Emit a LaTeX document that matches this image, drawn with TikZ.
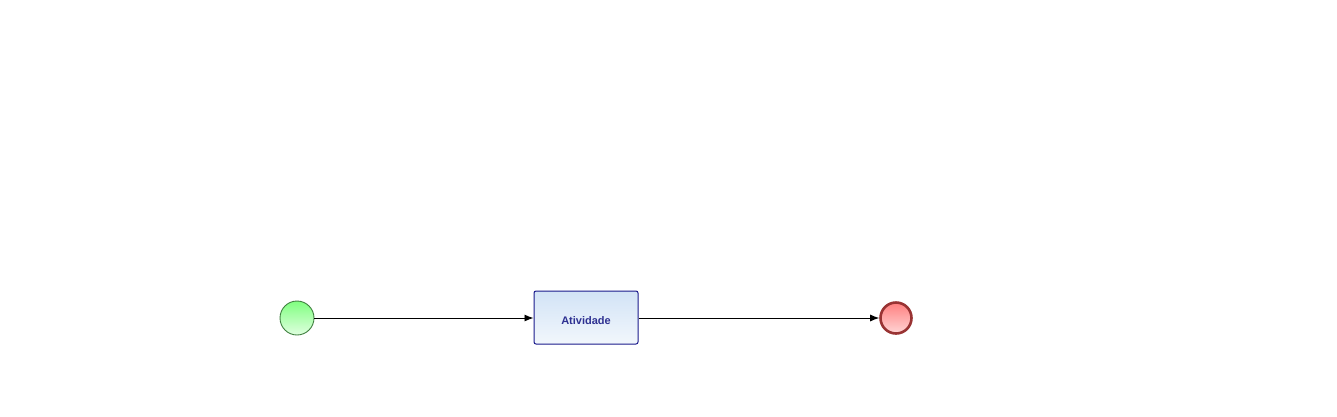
\documentclass[tikz,border=0pt]{standalone}
\usepackage{fontspec}
\setmainfont{Liberation Sans}
\usetikzlibrary{arrows.meta}
\definecolor{startfill}{HTML}{80FF80}
\definecolor{startfill2}{HTML}{E0FFE0}
\definecolor{startline}{HTML}{3F7F3F}
\definecolor{endfill}{HTML}{FF7F7F}
\definecolor{endfill2}{HTML}{FFD6D6}
\definecolor{endline}{HTML}{993333}
\definecolor{taskfill}{HTML}{D2E3F6}
\definecolor{taskfill2}{HTML}{F2F7FC}
\definecolor{taskline}{HTML}{1A1A8C}
\definecolor{tasktext}{HTML}{2E3192}
\tikzset{
  x=1pt, y=-1pt,
  startev/.style={circle, draw=startline, line width=0.9pt, top color=startfill, bottom color=startfill2, minimum size=34pt, inner sep=0pt},
  endev/.style={circle, draw=endline, line width=2.6pt, top color=endfill, bottom color=endfill2, minimum size=31pt, inner sep=0pt},
  taskbox/.style={rectangle, rounded corners=2pt, draw=taskline, line width=1pt, top color=taskfill, bottom color=taskfill2, minimum width=104pt, minimum height=53pt, inner sep=0pt},
  tasklabel/.style={font=\fontsize{11}{13}\selectfont\bfseries, text=tasktext, inner sep=0pt},
  flow/.style={draw=black, line width=0.9pt, -{Latex[length=9pt,width=7pt]}}
}
\begin{document}
\begin{tikzpicture}
\useasboundingbox (0,0) rectangle (1337,416);
\node[startev] (start) at (297,318) {};
\node[taskbox] (task) at (586,317.5) {};
\node[tasklabel] (label) at (586,320.5) {Atividade};
\node[endev] (end) at (896,318) {};
\draw[flow] (start.east) -- (task.west |- start.east);
\draw[flow] (task.east |- end.west) -- (end.west);
\end{tikzpicture}
\end{document}
